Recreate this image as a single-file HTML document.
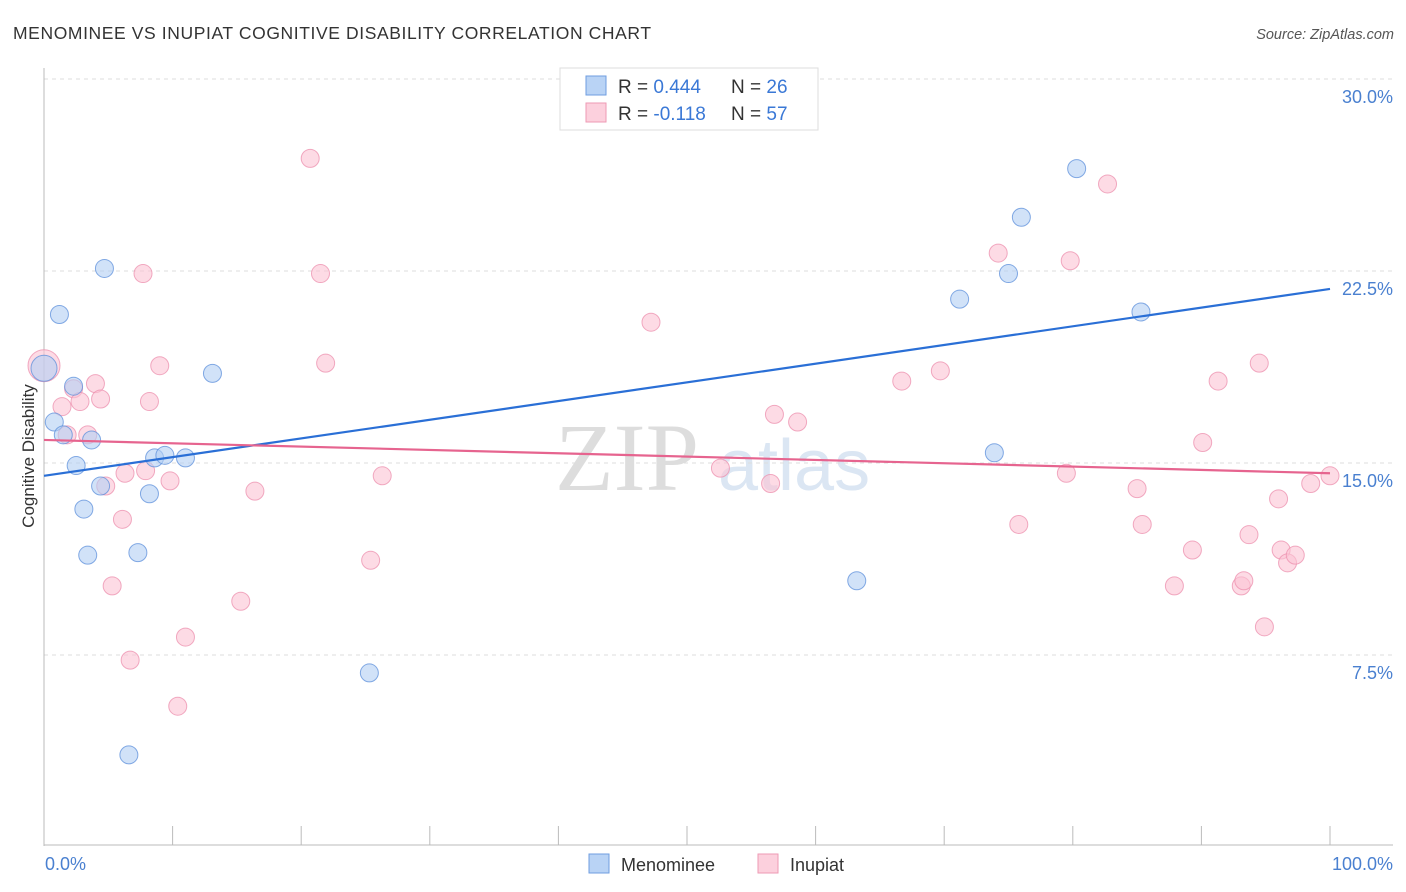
<!DOCTYPE html>
<html><head><meta charset="utf-8"><style>
body{margin:0;background:#fff;font-family:"Liberation Sans",sans-serif}
svg{display:block}
</style></head><body>
<svg id="c" width="1406" height="892" xmlns="http://www.w3.org/2000/svg">
<text x="13" y="39" font-size="17.5" letter-spacing="0.6" fill="#333">MENOMINEE VS INUPIAT COGNITIVE DISABILITY CORRELATION CHART</text>
<text x="1394" y="39" font-size="14.5" fill="#555" font-style="italic" text-anchor="end">Source: ZipAtlas.com</text>
<text x="555" y="490" font-size="96" fill="#ddd" font-family="Liberation Serif,serif">ZIP</text>
<text x="718" y="490" font-size="72" fill="#dbe6f3">atlas</text>
<g id="grid"></g><g id="axes"></g><g id="marks"></g>
<text transform="translate(34,456) rotate(-90)" font-size="17" fill="#333" text-anchor="middle">Cognitive Disability</text>
<text x="45" y="870" font-size="18" fill="#4a80d0">0.0%</text>
<text x="1393" y="870" font-size="18" fill="#4a80d0" text-anchor="end">100.0%</text>
<g>
<rect x="560" y="68" width="258" height="62" fill="#fff" stroke="#ddd"/>
<rect x="586" y="76" width="20" height="19" fill="#b9d3f5" stroke="#6f9ee0"/>
<rect x="586" y="103" width="20" height="19" fill="#fcd0dd" stroke="#ee9ab4"/>
<text x="618" y="93" font-size="19" fill="#333">R = <tspan fill="#3a78d6">0.444</tspan></text>
<text x="731" y="93" font-size="19" fill="#333">N = <tspan fill="#3a78d6">26</tspan></text>
<text x="618" y="120" font-size="19" fill="#333">R = <tspan fill="#3a78d6">-0.118</tspan></text>
<text x="731" y="120" font-size="19" fill="#333">N = <tspan fill="#3a78d6">57</tspan></text>
</g>
<g>
<rect x="589" y="854" width="20" height="19" fill="#b9d3f5" stroke="#6f9ee0"/>
<text x="621" y="871" font-size="18" fill="#333">Menominee</text>
<rect x="758" y="854" width="20" height="19" fill="#fcd0dd" stroke="#ee9ab4"/>
<text x="790" y="871" font-size="18" fill="#333">Inupiat</text>
</g>
</svg>
<script>
const yTicks=[7.5,15,22.5,30];
const yTickLabels=["7.5%","15.0%","22.5%","30.0%"];
const blueX=[0,1.2,4.7,2.3,0.8,1.5,3.7,2.5,4.4,3.1,3.4,7.3,8.2,8.6,9.4,11.0,13.1,6.6,25.3,63.2,71.2,75.0,76.0,80.3,85.3,73.9];
const blueY=[18.7,20.8,22.6,18.0,16.6,16.1,15.9,14.9,14.1,13.2,11.4,11.5,13.8,15.2,15.3,15.2,18.5,3.6,6.8,10.4,21.4,22.4,24.6,26.5,20.9,15.4];
const pinkX=[0,1.4,1.8,2.3,2.8,4.0,4.4,3.4,4.8,5.3,6.1,6.3,6.7,7.7,7.9,8.2,9.0,9.8,10.4,11.0,15.3,16.4,20.7,21.5,21.9,25.4,26.3,47.2,52.6,56.5,56.8,58.6,66.7,69.7,74.2,75.8,79.5,79.8,82.7,85.0,85.4,87.9,89.3,90.1,91.3,93.1,93.3,93.7,94.5,94.9,96.0,96.2,96.7,97.3,98.5,100];
const pinkY=[18.8,17.2,16.1,17.9,17.4,18.1,17.5,16.1,14.1,10.2,12.8,14.6,7.3,22.4,14.7,17.4,18.8,14.3,5.5,8.2,9.6,13.9,26.9,22.4,18.9,11.2,14.5,20.5,14.8,14.2,16.9,16.6,18.2,18.6,23.2,12.6,14.6,22.9,25.9,14.0,12.6,10.2,11.6,15.8,18.2,10.2,10.4,12.2,18.9,8.6,13.6,11.6,11.1,11.4,14.2,14.5];
const blueTrend=[14.5,21.8];
const pinkTrend=[15.9,14.6];
const X=v=>44+v*12.86, Y=v=>847-v*25.6;
const NS="http://www.w3.org/2000/svg";
function mk(t,a,p){const e=document.createElementNS(NS,t);for(const k in a)e.setAttribute(k,a[k]);p.appendChild(e);return e;}
const grid=document.getElementById('grid'),axes=document.getElementById('axes'),marks=document.getElementById('marks');
yTicks.forEach((t,i)=>{
 const l=mk('line',{x1:44,x2:1393,y1:Y(t),y2:Y(t),stroke:'#ddd','stroke-dasharray':'4,4'},grid);
 
 
 const tx=mk('text',{x:1393,y:Y(t)+24,'font-size':18,fill:'#4a80d0','text-anchor':'end'},grid);
 tx.textContent=yTickLabels[i];
 
 
});
const ya=mk('line',{x1:44,x2:44,y1:68,y2:846,stroke:'#bbb'},axes);


const xa=mk('line',{x1:44,x2:1393,y1:845,y2:845,stroke:'#bbb'},axes);


for(let k=1;k<=10;k++){const t=mk('line',{x1:X(k*10),x2:X(k*10),y1:826,y2:845,stroke:'#bbb'},axes);
 
 }
function pts(xs,ys,fill,stroke,name){xs.forEach((x,i)=>{
 const r=(i===0)?(name==='inupiat-point'?16:13):9;
 const c=mk('circle',{cx:X(x),cy:Y(ys[i]),r:r,fill:fill,'fill-opacity':0.6,stroke:stroke,'stroke-opacity':0.75,'stroke-width':1},marks);
 
 });}
pts(pinkX,pinkY,'#fbc3d4','#ec8fae','inupiat-point');
pts(blueX,blueY,'#b3cff3','#5c8fdb','menominee-point');
const bl=mk('line',{x1:X(0),x2:X(100),y1:Y(blueTrend[0]),y2:Y(blueTrend[1]),stroke:'#2a6fd6','stroke-width':2.2},marks);


const pl=mk('line',{x1:X(0),x2:X(100),y1:Y(pinkTrend[0]),y2:Y(pinkTrend[1]),stroke:'#e6648f','stroke-width':2.2},marks);


</script>
</body></html>
